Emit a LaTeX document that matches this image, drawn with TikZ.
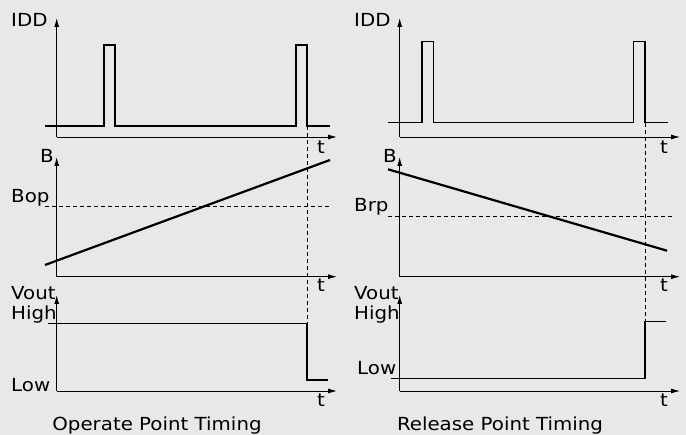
\documentclass[tikz,border=0pt]{standalone}
\usepackage{fontspec}
\setmainfont{DejaVu Sans}[FakeStretch=1.1]
\usetikzlibrary{arrows.meta}
\definecolor{bg}{HTML}{E8E8E8}
\begin{document}
\begin{tikzpicture}[x=1pt,y=-1pt,
  axis/.style={line width=0.9pt,-{Latex[length=9pt,width=5pt]}},
  sig/.style={line width=1.3pt},
  ramp/.style={line width=2.2pt},
  guide/.style={line width=0.9pt,dash pattern=on 4pt off 3pt},
  lbl/.style={inner sep=0pt,anchor=base west,font=\fontsize{18}{20}\selectfont},
  ttl/.style={inner sep=0pt,anchor=base,font=\fontsize{18}{20}\selectfont}]
\fill[bg] (0,0) rectangle (686,435);
\useasboundingbox (0,0) rectangle (686,435);

% ---------- left panel ----------
\coordinate (LO1) at (56.7,137); \coordinate (LY1) at (56.7,18); \coordinate (LX1) at (337,137);
\coordinate (LO2) at (56.7,276.7); \coordinate (LY2) at (56.7,157); \coordinate (LX2) at (337,276.7);
\coordinate (LO3) at (56.7,391); \coordinate (LY3) at (56.7,295); \coordinate (LX3) at (337,391);
\coordinate (LDt) at (307,126); \coordinate (LDb) at (307,323.3);
\draw[guide] (LDt) -- (LDb);
\draw[axis] (LO1) -- (LY1);
\draw[axis] (LO1) -- (LX1);
\draw[axis] (LO2) -- (LY2);
\draw[axis] (LO2) -- (LX2);
\draw[axis] (LO3) -- (LY3);
\draw[axis] (LO3) -- (LX3);
\coordinate (LI0) at (45,126); \coordinate (LI1) at (330,126);
\draw[sig] (LI0) -- (104,126) -- (104,45) -- (115,45) -- (115,126) -- (296,126) -- (296,45) -- (307,45) -- (307,126) -- (LI1);
\coordinate (LBd0) at (45,206.7); \coordinate (LBd1) at (330,206.7);
\draw[guide] (LBd0) -- (LBd1);
\coordinate (LR0) at (45,265); \coordinate (LR1) at (330,160);
\draw[ramp] (LR0) -- (LR1);
\coordinate (LV0) at (48,323.3); \coordinate (LV1) at (328,380);
\draw[sig] (LV0) -- (307,323.3) -- (307,380) -- (LV1);
\node[lbl] (lidd) at (11,27) {IDD};
\node[lbl] (lt1) at (317,154) {t};
\node[lbl] (lb) at (40,163) {B};
\node[lbl] (lbop) at (11,203) {Bop};
\node[lbl] (lt2) at (317,292) {t};
\node[lbl] (lvout) at (11,300) {Vout};
\node[lbl] (lhigh) at (11,320) {High};
\node[lbl] (llow) at (11,392) {Low};
\node[lbl] (lt3) at (317,407) {t};
\node[ttl] (ltitle) at (157,431) {Operate Point Timing};

% ---------- right panel ----------
\coordinate (RO1) at (399.7,137); \coordinate (RY1) at (399.7,18); \coordinate (RX1) at (680,137);
\coordinate (RO2) at (399.7,276.7); \coordinate (RY2) at (399.7,157); \coordinate (RX2) at (680,276.7);
\coordinate (RO3) at (399.7,391); \coordinate (RY3) at (399.7,295); \coordinate (RX3) at (680,391);
\coordinate (RDt) at (645,122.7); \coordinate (RDb) at (645,321.7);
\draw[guide] (RDt) -- (RDb);
\draw[axis] (RO1) -- (RY1);
\draw[axis] (RO1) -- (RX1);
\draw[axis] (RO2) -- (RY2);
\draw[axis] (RO2) -- (RX2);
\draw[axis] (RO3) -- (RY3);
\draw[axis] (RO3) -- (RX3);
\coordinate (RI0) at (388,122.7); \coordinate (RI1) at (668,122.7);
\draw[sig] (RI0) -- (422,122.7) -- (422,41.7) -- (433.7,41.7) -- (433.7,122.7) -- (633.7,122.7) -- (633.7,41.7) -- (645,41.7) -- (645,122.7) -- (RI1);
\coordinate (RBd0) at (388,216); \coordinate (RBd1) at (673,216);
\draw[guide] (RBd0) -- (RBd1);
\coordinate (RR0) at (388,169.3); \coordinate (RR1) at (667,250.7);
\draw[ramp] (RR0) -- (RR1);
\coordinate (RV0) at (391,378.3); \coordinate (RV1) at (665.7,321.7);
\draw[sig] (RV0) -- (645,378.3) -- (645,321.7) -- (RV1);
\node[lbl] (ridd) at (354,27) {IDD};
\node[lbl] (rt1) at (660,154) {t};
\node[lbl] (rb) at (383,163) {B};
\node[lbl] (rbrp) at (354,212) {Brp};
\node[lbl] (rt2) at (660,292) {t};
\node[lbl] (rvout) at (354,300) {Vout};
\node[lbl] (rhigh) at (354,320) {High};
\node[lbl] (rlow) at (357,375) {Low};
\node[lbl] (rt3) at (660,407) {t};
\node[ttl] (rtitle) at (500,431) {Release Point Timing};
\end{tikzpicture}
\end{document}
